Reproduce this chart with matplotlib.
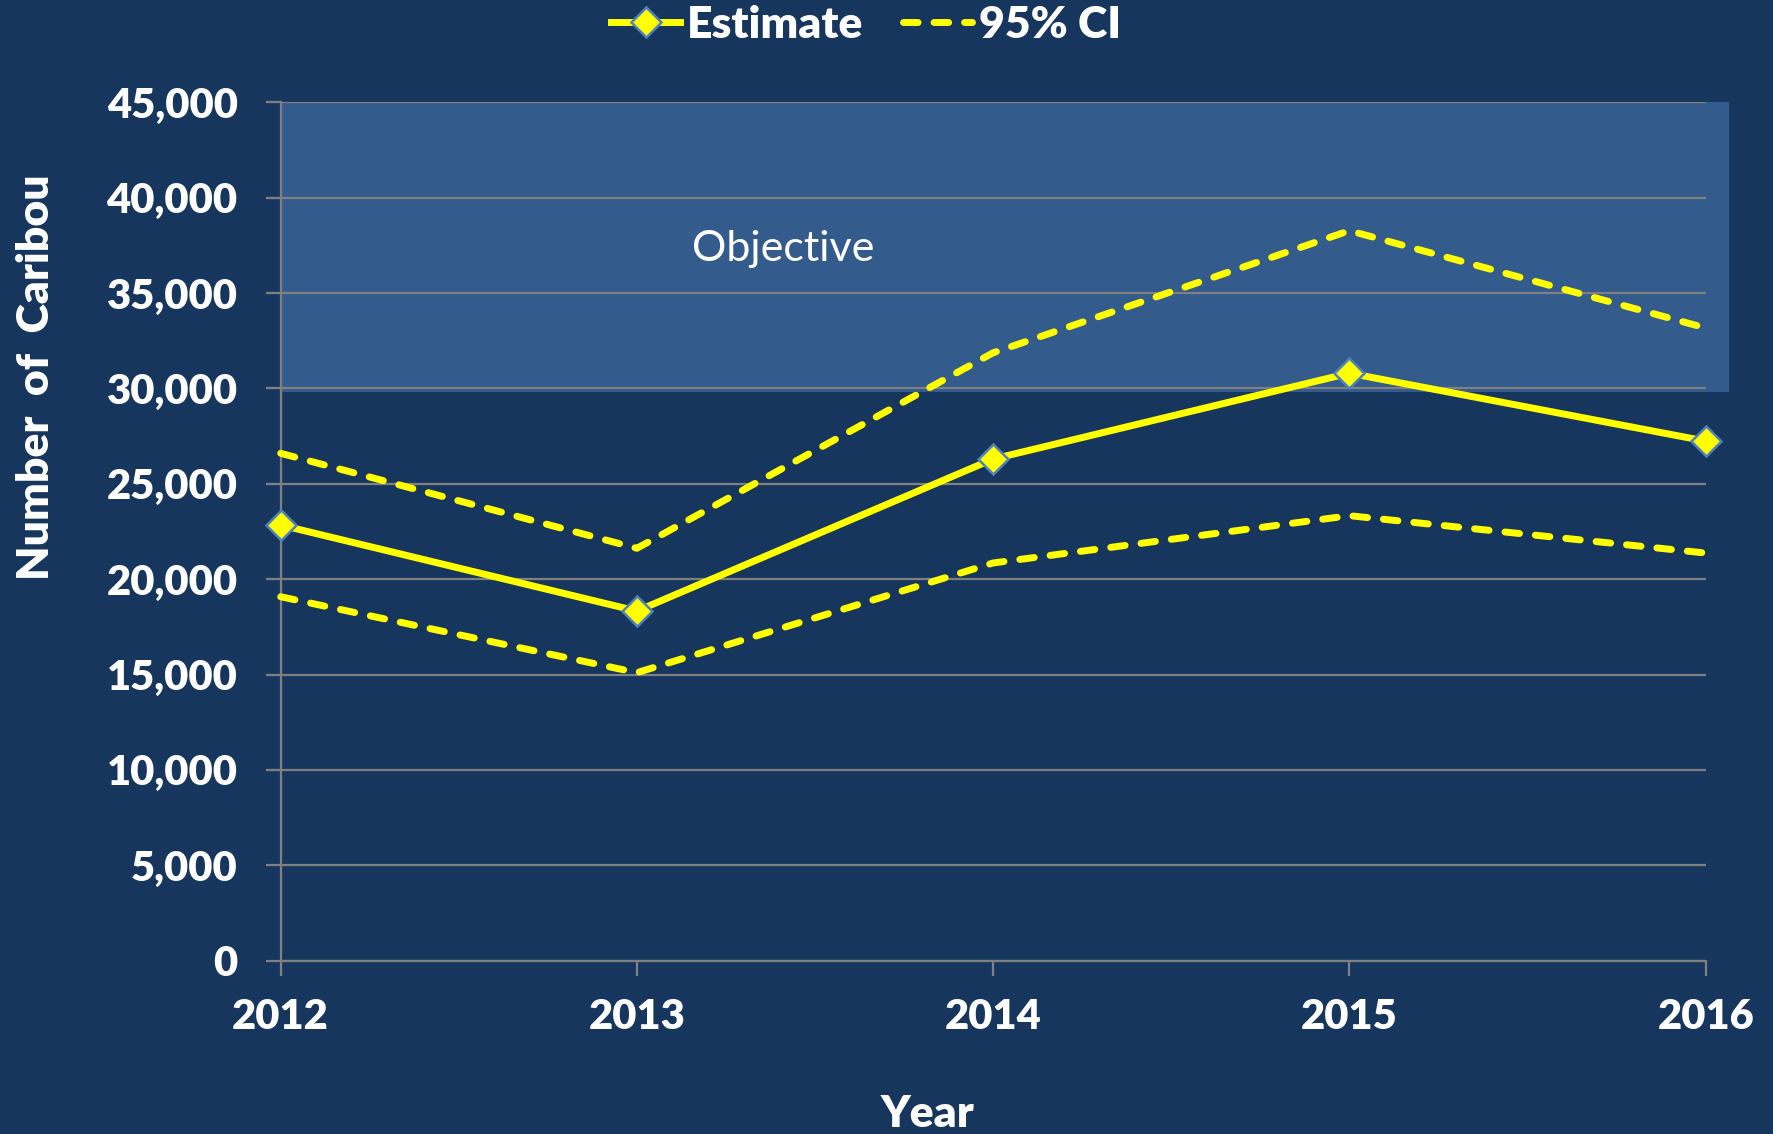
import matplotlib.pyplot as plt
from matplotlib.patches import Rectangle
from matplotlib.lines import Line2D
from matplotlib.ticker import FuncFormatter

years = [2012, 2013, 2014, 2015, 2016]
estimate = [22840, 18330, 26300, 30800, 27240]
ci_upper = [26600, 21620, 31870, 38270, 33170]
ci_lower = [19080, 15100, 20850, 23330, 21370]
objective_low = 29800
objective_high = 45000

bg = "#17365d"
box_col = "#335b8c"
grid_col = "#808080"
yellow = "#ffff00"
edge_blue = "#4f81bd"

plt.rcParams['font.family'] = ['Lato', 'DejaVu Sans']

fig = plt.figure(figsize=(17.73, 11.34), dpi=100, facecolor=bg)
ax = fig.add_axes([0.1583, 0.1528, 0.962 - 0.1583, 0.9098 - 0.1528])
ax.set_facecolor(bg)

ax.set_xlim(2012, 2016)
ax.set_ylim(0, 45000)

# objective band, sticks out a bit past the last year
ax.add_patch(Rectangle((2012, objective_low), 4.065, objective_high - objective_low,
                       facecolor=box_col, edgecolor="none", zorder=0, clip_on=False))
ax.text(2013.41, 37300, "Objective", color="white", fontsize=31, ha="center", va="center")

ax.set_yticks(range(0, 45001, 5000))
ax.set_xticks(years)
ax.yaxis.set_major_formatter(FuncFormatter(lambda v, p: f"{int(v):,}"))
ax.grid(True, axis='y', color=grid_col, linewidth=1.6, zorder=1)
ax.set_axisbelow(True)

for s in ['top', 'right']:
    ax.spines[s].set_visible(False)
for s in ['left', 'bottom']:
    ax.spines[s].set_color(grid_col)
    ax.spines[s].set_linewidth(1.6)

ax.tick_params(axis='both', colors=grid_col, length=11, width=1.6, labelcolor="white", labelsize=30)
ax.tick_params(axis='y', pad=20)
ax.tick_params(axis='x', pad=16)
for lab in ax.get_xticklabels() + ax.get_yticklabels():
    lab.set_fontweight("heavy")

lw = 5.0
dash_kw = dict(color=yellow, linewidth=lw, dashes=(2.1, 2.3), dash_capstyle='round', zorder=3, clip_on=False)
ax.plot(years, ci_upper, **dash_kw)
ax.plot(years, ci_lower, **dash_kw)
ax.plot(years, estimate, color=yellow, linewidth=lw, marker='D', markersize=15,
        markerfacecolor=yellow, markeredgecolor=edge_blue, markeredgewidth=1.8,
        zorder=4, clip_on=False)

ax.set_xlabel("Year", color="white", fontsize=32, fontweight="heavy", va="center")
ax.xaxis.set_label_coords(0.454, -0.1786)
ax.set_ylabel("Number  of  Caribou", color="white", fontsize=32, fontweight="heavy", va="center")
ax.yaxis.set_label_coords(-0.172, 0.68)

h1 = Line2D([], [], color=yellow, linewidth=lw, marker='D', markersize=15,
            markerfacecolor=yellow, markeredgecolor=edge_blue, markeredgewidth=1.8)
h2 = Line2D([], [], color=yellow, linewidth=lw, dashes=(2.1, 2.3), dash_capstyle='round')
leg = fig.legend([h1, h2], ["Estimate", "95% CI"], loc="center", bbox_to_anchor=(866 / 1773, 1 - 25 / 1134),
                 ncol=2, frameon=False, handlelength=1.55, handletextpad=0.15,
                 columnspacing=0.9, labelcolor="white", prop={"weight": "heavy", "size": 32})

fig.savefig("out.png", dpi=100, facecolor=bg)
